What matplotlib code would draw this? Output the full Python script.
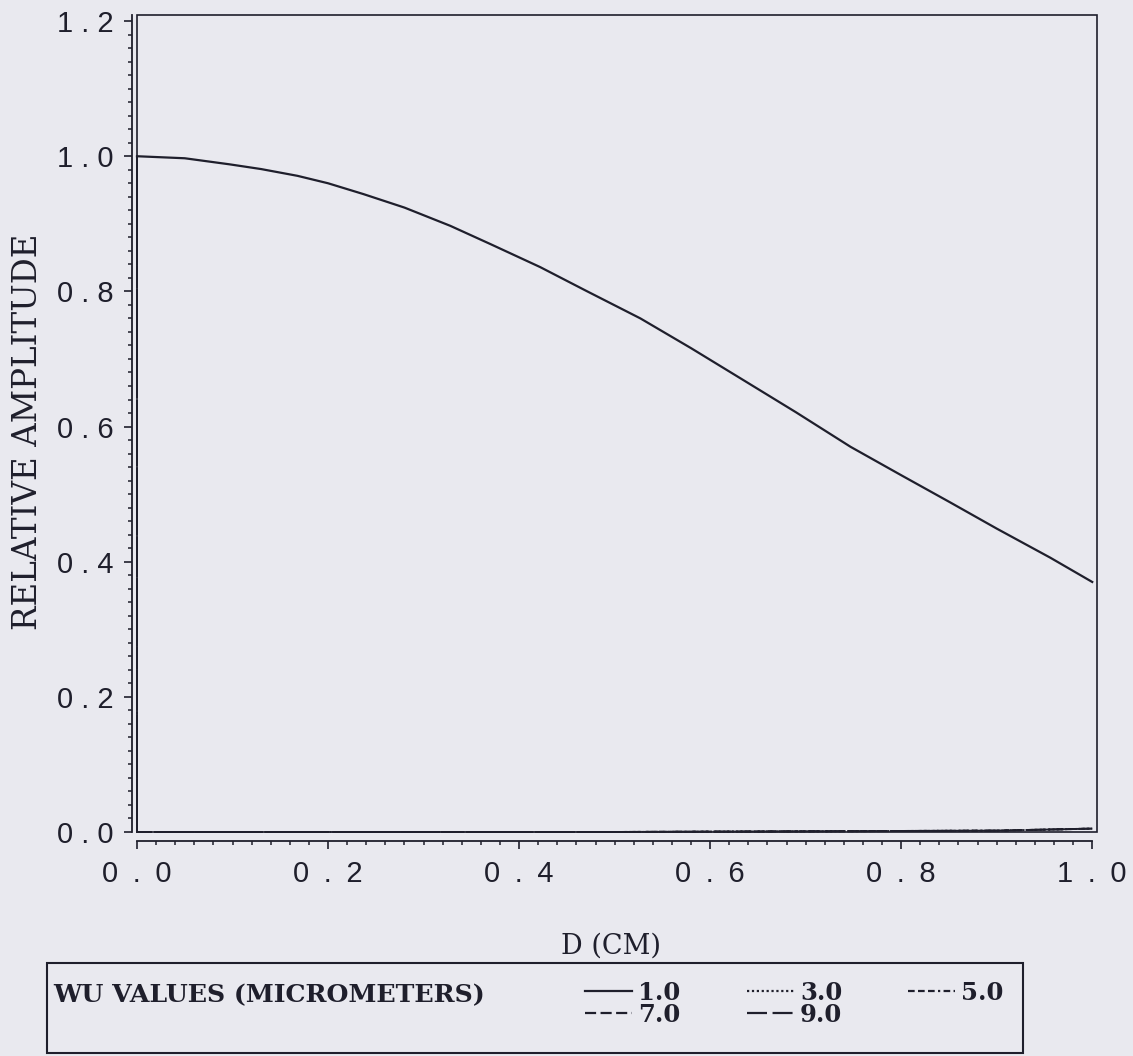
import matplotlib
matplotlib.use("Agg")
import matplotlib.pyplot as plt
from matplotlib.patches import Rectangle
from matplotlib.lines import Line2D
from matplotlib.ticker import MultipleLocator, FixedLocator, FixedFormatter

# ---- data -------------------------------------------------------------
wu_values = ["1.0", "3.0", "5.0", "7.0", "9.0"]

# slowly decaying profile
d_main = [0.0, 0.05, 0.097, 0.13, 0.168, 0.2, 0.237, 0.28, 0.328, 0.37, 0.422,
          0.47, 0.527, 0.58, 0.631, 0.69, 0.747, 0.80, 0.851, 0.90, 0.956, 1.0]
amp_main = [1.000, 0.997, 0.988, 0.981, 0.971, 0.960, 0.944, 0.924, 0.897, 0.870,
            0.836, 0.801, 0.760, 0.716, 0.672, 0.621, 0.570, 0.528, 0.488,
            0.449, 0.406, 0.370]

# profiles that collapse to zero right away
d_fast = [0.0, 0.0, 0.5, 0.9, 1.0]
amp_fast = [1.0, 0.0, 0.0, 0.002, 0.005]

x_ticks = [0.0, 0.2, 0.4, 0.6, 0.8, 1.0]
y_ticks = [0.0, 0.2, 0.4, 0.6, 0.8, 1.0, 1.2]
x_tick_labels = ["0\u2002.\u20020", "0\u2002.\u20022", "0\u2002.\u20024",
                 "0\u2002.\u20026", "0\u2002.\u20028", "1\u2002.\u20020"]
y_tick_labels = ["0 . 0", "0 . 2", "0 . 4", "0 . 6", "0 . 8", "1 . 0", "1 . 2"]

# ---- styling ----------------------------------------------------------
W, H = 1133, 1056
BG = "#e9e9ef"
INK = "#1f1f2c"
styles = {
    "1.0": dict(linestyle="-"),
    "3.0": dict(linestyle=(0, (1.0, 1.2))),
    "5.0": dict(linestyle=(0, (3.0, 1.5, 3.0, 1.5, 3.0, 1.5, 1.0, 1.5))),
    "7.0": dict(linestyle=(0, (5.0, 2.0))),
    "9.0": dict(linestyle=(0, (9.0, 2.5))),
}

def fx(px):
    return px / W

def fy(py):
    return 1 - py / H

fig = plt.figure(figsize=(W / 100, H / 100), dpi=100, facecolor=BG)
ax = fig.add_axes([fx(137), fy(832), (1097 - 137) / W, (832 - 15) / H])
ax.set_facecolor(BG)
ax.set_xlim(0, 1.005)
ax.set_ylim(0, 1.209)

# curves
ax.plot(d_main, amp_main, color=INK, lw=1.6, solid_joinstyle="round",
        clip_on=False, **styles["1.0"])
for wu in wu_values[1:]:
    ax.plot(d_fast, amp_fast, color=INK, lw=1.4, clip_on=False, **styles[wu])

# plot frame
ax.add_patch(Rectangle((0, 0), 1, 1, transform=ax.transAxes, fill=False,
                       edgecolor=INK, lw=1.2, clip_on=False))

# offset axes
for side in ("top", "right"):
    ax.spines[side].set_visible(False)
ax.spines["left"].set_position(("outward", 3.6))
ax.spines["bottom"].set_position(("outward", 6.5))
ax.spines["bottom"].set_bounds(0, 1.0)
for side in ("left", "bottom"):
    ax.spines[side].set_color(INK)
    ax.spines[side].set_linewidth(1.3)

ax.xaxis.set_major_locator(FixedLocator(x_ticks))
ax.xaxis.set_major_formatter(FixedFormatter(x_tick_labels))
ax.yaxis.set_major_locator(FixedLocator(y_ticks))
ax.yaxis.set_major_formatter(FixedFormatter(y_tick_labels))
ax.xaxis.set_minor_locator(MultipleLocator(0.02))
ax.yaxis.set_minor_locator(MultipleLocator(0.02))
ax.tick_params(which="major", direction="out", length=6, width=1.2, color=INK,
               labelsize=21, labelcolor=INK)
ax.tick_params(which="minor", direction="out", length=3, width=1.1, color=INK)
ax.tick_params(axis="x", which="major", pad=8)
ax.tick_params(axis="y", which="major", pad=7)
for lab in ax.get_xticklabels() + ax.get_yticklabels():
    lab.set_fontfamily(["Liberation Sans", "DejaVu Sans"])

# axis titles
fig.text(fx(28), fy(432), "RELATIVE AMPLITUDE", rotation=90, ha="center",
         va="center", fontsize=23.5, family="DejaVu Serif", color=INK)
fig.text(fx(611), fy(954), "D (CM)", ha="center", va="baseline",
         fontsize=19.5, family="DejaVu Serif", color=INK)

# legend
fig.add_artist(Rectangle((fx(47), fy(1053)), fx(1023 - 47), (1053 - 963) / H,
                         transform=fig.transFigure, fill=False,
                         edgecolor=INK, lw=1.5))
fig.text(fx(53), fy(1002), "WU VALUES (MICROMETERS)", ha="left",
         va="baseline", fontsize=18.2, family="DejaVu Serif",
         fontweight="bold", color=INK)

entry_pos = {
    "1.0": (585, 1000), "3.0": (747, 1000), "5.0": (908, 1000),
    "7.0": (585, 1022), "9.0": (747, 1022),
}
for wu in wu_values:
    x0, base = entry_pos[wu]
    yl = base - 9
    fig.add_artist(Line2D([fx(x0), fx(x0 + 47)], [fy(yl), fy(yl)],
                          transform=fig.transFigure, color=INK, lw=1.6,
                          **styles[wu]))
    fig.text(fx(x0 + 53), fy(base), wu, ha="left", va="baseline",
             fontsize=17.5, family="DejaVu Serif", fontweight="bold",
             color=INK)

fig.savefig("out.png", dpi=100, facecolor=BG)
